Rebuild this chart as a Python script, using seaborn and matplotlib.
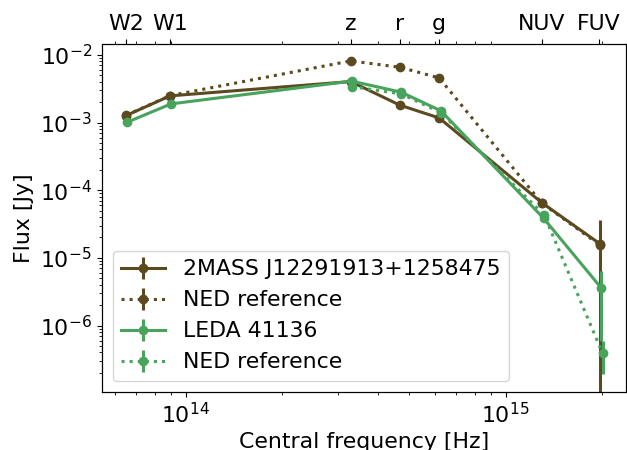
import numpy as np
import matplotlib
matplotlib.use("Agg")
import matplotlib.pyplot as plt
import seaborn as sns
from matplotlib.lines import Line2D
from matplotlib.collections import LineCollection
from matplotlib.container import ErrorbarContainer

plt.rcParams['font.size'] = 15.8

# Band labels and central frequencies [Hz]
bands = ["W2", "W1", "z", "r", "g", "NUV", "FUV"]
band_freq = [6.51e13, 8.93e13, 3.28e14, 4.67e14, 6.20e14, 1.30e15, 1.956e15]

# 2MASS J12291913+1258475 (own photometry)
obj1_freq = [6.51e13, 8.93e13, 3.28e14, 4.67e14, 6.20e14, 1.30e15, 1.97e15]
obj1_flux = [1.27e-3, 2.48e-3, 4.04e-3, 1.81e-3, 1.17e-3, 6.5e-5, 1.62e-5]
obj1_err = [0, 0, 0, 0, 0, 0, 2.05e-5]

# NED reference for object 1
ned1_freq = [6.51e13, 8.93e13, 3.28e14, 4.67e14, 6.20e14, 1.30e15, 1.97e15]
ned1_flux = [1.28e-3, 2.50e-3, 8.15e-3, 6.58e-3, 4.57e-3, 6.4e-5, 1.55e-5]
ned1_err = [0, 0, 0, 0, 0, 0, 1e-6]

# LEDA 41136 (own photometry)
obj2_freq = [6.55e13, 9.0e13, 3.30e14, 4.72e14, 6.28e14, 1.315e15, 1.995e15]
obj2_flux = [1.01e-3, 1.89e-3, 4.1e-3, 2.81e-3, 1.49e-3, 3.85e-5, 3.55e-6]
obj2_err = [0, 0, 0, 0, 0, 0, 2.95e-6]

# NED reference for object 2
ned2_freq = [3.31e14, 4.72e14, 6.28e14, 1.32e15, 2.01e15]
ned2_flux = [3.4e-3, 2.65e-3, 1.4e-3, 4.3e-5, 3.9e-7]
ned2_err = [0, 0, 0, 0, 2.0e-7]

brown = "#5b4a20"
green = "#48a35c"

series = [
    (obj1_freq, obj1_flux, obj1_err, brown, "-", "2MASS J12291913+1258475"),
    (ned1_freq, ned1_flux, ned1_err, brown, ":", "NED reference"),
    (obj2_freq, obj2_flux, obj2_err, green, "-", "LEDA 41136"),
    (ned2_freq, ned2_flux, ned2_err, green, ":", "NED reference"),
]

fig = plt.figure(figsize=(6.27, 4.5), dpi=100)
ax = fig.add_axes([101.7 / 627, 1 - 392 / 450, (626 - 101.7) / 627, (392 - 44) / 450])
ax.set_xscale("log")
ax.set_yscale("log")

handles = []
for fx, fy, fe, c, ls, lab in series:
    sns.lineplot(x=fx, y=fy, ax=ax, color=c, linestyle=ls, linewidth=2.2,
                 marker="o", markersize=7, markeredgewidth=0,
                 estimator=None, sort=False, legend=False)
    ax.errorbar(fx, fy, yerr=fe, fmt="none", ecolor=c, elinewidth=2.2)
    line = Line2D([], [], color=c, linestyle=ls, linewidth=2.2, marker="o",
                  markersize=7, markeredgewidth=0)
    bar = LineCollection([], colors=c, linewidths=2.2)
    cont = ErrorbarContainer((line, (), (bar,)), has_xerr=False, has_yerr=True, label=lab)
    handles.append(cont)

ax.set_xlim(5.46e13, 2.38e15)
ax.set_ylim(1.04e-7, 1.45e-2)
ax.set_xlabel("Central frequency [Hz]")
ax.set_ylabel("Flux [Jy]")

ax.legend(handles=handles, labels=[s[5] for s in series], loc="lower left")

top = ax.twiny()
top.set_xscale("log")
top.set_xlim(ax.get_xlim())
top.set_xticks(band_freq)
top.set_xticklabels(bands)

fig.savefig("out.png", dpi=100)
